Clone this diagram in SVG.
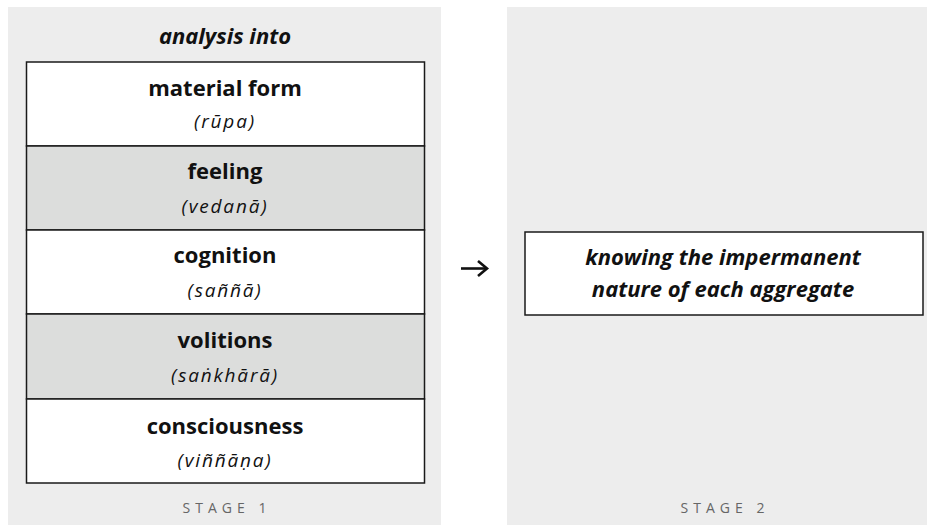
<svg xmlns="http://www.w3.org/2000/svg" width="927" height="525" viewBox="0 0 927 525">
<style>
.panel{fill:#ededed}
.row{stroke:#1a1a1a;stroke-width:1.5}
.w{fill:#ffffff}
.g{fill:#dcdddc}
.t{font-family:"Open Sans","Noto Sans",sans-serif;font-weight:bold;font-size:22px;fill:#111;text-anchor:middle}
.s{font-family:"Open Sans","Noto Sans",sans-serif;font-style:italic;font-size:19px;letter-spacing:1.8px;fill:#111;text-anchor:middle}
.bi{font-family:"Open Sans","Noto Sans",sans-serif;font-style:italic;font-weight:bold;font-size:22px;fill:#111;text-anchor:middle}
.stage{font-family:"Open Sans","Noto Sans",sans-serif;font-size:14px;fill:#666;text-anchor:middle;letter-spacing:5px}
.conn{fill:none;stroke:#111;stroke-width:2.6}
</style>
<rect width="927" height="525" fill="#ffffff"/>
<rect class="panel" x="8" y="7" width="433" height="518"/>
<rect class="panel" x="507" y="7" width="420" height="518"/>
<text class="bi" x="225" y="44" font-weight="600" font-size="21">analysis into</text>
<g id="material-form">
<rect class="row w" x="26.5" y="62" width="398" height="84"/>
<text class="t" x="225" y="96">material form</text>
<text class="s" x="225" y="128">(rūpa)</text>
</g>
<g id="feeling">
<rect class="row g" x="26.5" y="146" width="398" height="84"/>
<text class="t" x="225" y="179">feeling</text>
<text class="s" x="225" y="213">(vedanā)</text>
</g>
<g id="cognition">
<rect class="row w" x="26.5" y="230" width="398" height="84"/>
<text class="t" x="225" y="263">cognition</text>
<text class="s" x="225" y="297">(saññā)</text>
</g>
<g id="volitions">
<rect class="row g" x="26.5" y="314" width="398" height="85"/>
<text class="t" x="225" y="348">volitions</text>
<text class="s" x="225" y="382">(saṅkhārā)</text>
</g>
<g id="consciousness">
<rect class="row w" x="26.5" y="399" width="398" height="84"/>
<text class="t" x="225" y="434">consciousness</text>
<text class="s" x="225" y="467">(viññāṇa)</text>
</g>
<text class="stage" x="227" y="513">STAGE 1</text>
<g id="connectors">
<path class="conn" d="M461 268.5 H486"/>
<path class="conn" d="M478 261 L487 268.5 L478 276" stroke-linejoin="miter"/>
</g>
<g id="knowing">
<rect class="row w" x="525" y="232" width="398" height="83"/>
<text class="bi" x="723" y="265">knowing the impermanent</text>
<text class="bi" x="723" y="297">nature of each aggregate</text>
</g>
<text class="stage" x="725" y="513">STAGE 2</text>
</svg>
